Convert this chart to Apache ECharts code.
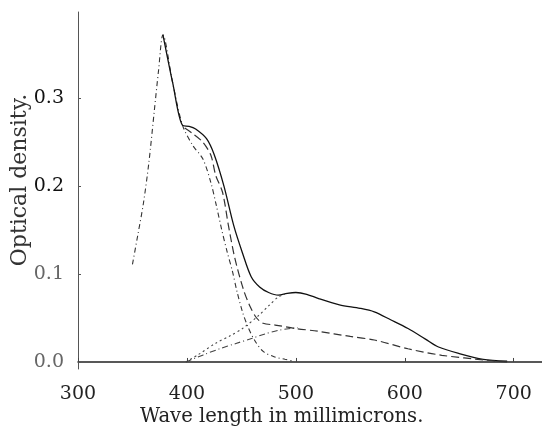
<!DOCTYPE html>
<html>
<head>
<meta charset="utf-8">
<script src="https://cdn.jsdelivr.net/npm/echarts@6/dist/echarts.min.js"></script>
<style>html,body{margin:0;padding:0;background:#fff}#c{width:542px;height:432px}</style>
</head>
<body>
<div id="c"></div>
<script>
// tick labels
const xTicks = [300, 400, 500, 600, 700];
const yTicks = [0, 0.1, 0.2, 0.3];
const xTitle = 'Wave length in millimicrons.';
const yTitle = 'Optical density.';

// curve A: left band (peak ~378 mµ), dash-dot
const curveA = [[350,0.111],[355,0.145],[360,0.180],[365,0.226],[370,0.285],[374,0.332],[378,0.372],[387,0.317],[396,0.269],[405.5,0.246],[414.6,0.231],[422,0.204],[427,0.178],[432,0.15],[437,0.125],[441.6,0.104],[446,0.08],[451,0.057],[456,0.04],[462,0.025],[470,0.012],[480,0.006],[490,0.003],[498,0.001]];
// total curve, solid
const curveTotal = [[378,0.372],[387,0.317],[396,0.269],[402,0.268],[408,0.265],[418,0.254],[425,0.236],[434,0.200],[443,0.155],[451,0.124],[459,0.097],[467,0.085],[475,0.079],[484,0.076],[492,0.078],[500,0.079],[510,0.077],[521,0.072],[540,0.065],[559,0.061],[572,0.057],[587,0.048],[603,0.038],[619,0.026],[631,0.017],[650,0.0095],[672,0.003],[694,0.001]];
// second total curve, dashed
const curveDashed = [[398,0.266],[405,0.260],[414.6,0.250],[422,0.235],[426.5,0.212],[432.7,0.193],[438,0.156],[444,0.118],[452,0.082],[458,0.063],[464,0.050],[470,0.044],[481,0.042],[500,0.038],[520,0.035],[550,0.029],[572,0.025],[603,0.015],[634,0.0076],[675,0.002],[694,0.0]];
// rising component D, dotted
const curveD = [[399,0.0],[410,0.008],[426,0.021],[440,0.030],[451,0.038],[466,0.053],[476,0.065],[484,0.074],[490,0.077]];
// rising component C, dash-dot
const curveC = [[399,0.0],[415,0.008],[430,0.015],[445,0.021],[460,0.027],[472,0.032],[484,0.036],[495,0.038],[502,0.039]];

const FONT = 'DejaVu Serif';
const chart = echarts.init(document.getElementById('c'), null, {renderer: 'canvas'});

function line(data, type, width, color) {
  return {
    type: 'line', data: data, smooth: 0.3, symbol: 'none',
    lineStyle: {color: color, width: width, type: type},
    z: 3, animation: false
  };
}

chart.setOption({
  animation: false,
  backgroundColor: '#ffffff',
  grid: {left: 78, right: 0, top: 12, bottom: 63, containLabel: false, outerBoundsMode: 'none'},
  xAxis: {
    type: 'value', min: 300, max: 726, interval: 100,
    axisLine: {show: true, lineStyle: {color: '#222', width: 1.5}},
    axisTick: {show: true, inside: true, length: 4, lineStyle: {color: '#444'}, customValues: xTicks},
    axisLabel: {customValues: xTicks, fontFamily: FONT, fontSize: 19, color: '#222', margin: 16},
    splitLine: {show: false}
  },
  yAxis: {
    type: 'value', min: -0.008, max: 0.398,
    axisLine: {show: true, lineStyle: {color: '#555', width: 1}},
    axisTick: {show: true, inside: true, length: 3, lineStyle: {color: '#555'}, customValues: yTicks},
    axisLabel: {
      customValues: yTicks, fontFamily: FONT, fontSize: 19, margin: 14,
      formatter: v => v.toFixed(1),
      color: (v) => (v >= 0.15 ? '#111' : '#666')
    },
    splitLine: {show: false}
  },
  graphic: [{
    type: 'text', left: 140, top: 407,
    style: {text: xTitle, font: '19.6px "DejaVu Serif"', fill: '#222'}
  }, {
    type: 'text', x: 20, y: 180, rotation: Math.PI / 2,
    style: {text: yTitle, font: '22px "DejaVu Serif"', fill: '#333', align: 'center', verticalAlign: 'middle'}
  }],
  series: [
    line(curveA, [5,3,1,3], 1.1, '#333'),
    line(curveTotal, 'solid', 1.3, '#111'),
    line(curveDashed, [8,4], 1.2, '#333'),
    line(curveD, [2,3], 1.1, '#444'),
    line(curveC, [6,3,1,3], 1.1, '#444')
  ]
});
</script>
</body>
</html>
